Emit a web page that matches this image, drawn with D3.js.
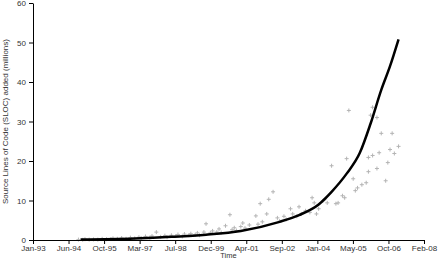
<!DOCTYPE html>
<html>
<head>
<meta charset="utf-8">
<script src="https://cdn.jsdelivr.net/npm/d3@7/dist/d3.min.js"></script>
<style>
  body { margin: 0; background: #fff; }
  svg { display: block; font-family: 'Liberation Sans', Arial, sans-serif; }
</style>
</head>
<body>
<div id="chart"></div>
<script>
// observed SLOC per month (millions)
const obsMonths = [
  '1994-11', '1995-01', '1995-02', '1995-04', '1995-06', '1995-08', '1995-10', '1995-12',
  '1996-02', '1996-03', '1996-05', '1996-07', '1996-09', '1996-11', '1997-01', '1997-03',
  '1997-04', '1997-06', '1997-08', '1997-09', '1997-11', '1998-01', '1998-03', '1998-04',
  '1998-06', '1998-08', '1998-09', '1998-11', '1998-12', '1999-02', '1999-03', '1999-05',
  '1999-06', '1999-07', '1999-09', '1999-10', '1999-12', '2000-01', '2000-03', '2000-04',
  '2000-05', '2000-07', '2000-09', '2000-10', '2000-11', '2000-12', '2001-02', '2001-03',
  '2001-04', '2001-06', '2001-09', '2001-10', '2001-11', '2001-12', '2002-02', '2002-03',
  '2002-05', '2002-07', '2002-08', '2002-10', '2002-11', '2003-01', '2003-02', '2003-04',
  '2003-05', '2003-06', '2003-08', '2003-10', '2003-11', '2003-12', '2004-01', '2004-02',
  '2004-04', '2004-05', '2004-06', '2004-08', '2004-10', '2004-11', '2005-01', '2005-02',
  '2005-03', '2005-04', '2005-06', '2005-07', '2005-08', '2005-10', '2005-12', '2006-01',
  '2006-01', '2006-02', '2006-03', '2006-03', '2006-05', '2006-05', '2006-06', '2006-07',
  '2006-09', '2006-10', '2006-11', '2006-12', '2007-01', '2007-03'
];
const obsValues = [
  0.1, 0.05, 0.2, 0.1, 0.15, 0.1, 0.3, 0.2,
  0.25, 0.4, 0.3, 0.5, 0.3, 0.6, 0.4, 0.7,
  0.5, 0.9, 0.6, 1.0, 2.0, 0.8, 1.1, 0.7,
  1.2, 1.0, 1.4, 0.9, 1.5, 1.2, 1.6, 1.3,
  1.8, 1.2, 2.0, 4.1, 1.8, 2.3, 2.0, 2.8,
  1.9, 3.6, 6.4, 2.6, 3.1, 2.4, 3.4, 4.3,
  3.0, 3.8, 6.1, 4.0, 9.2, 4.6, 6.6, 10.3,
  12.2, 5.6, 4.8, 6.0, 5.2, 7.9, 6.6, 6.0,
  8.4, 6.6, 7.4, 7.0, 10.7, 9.4, 6.6, 7.9,
  9.9, 10.4, 9.4, 18.8, 9.2, 9.4, 11.2, 10.7,
  20.6, 32.8, 15.5, 12.5, 13.2, 14.0, 14.5, 17.3,
  20.9, 31.6, 33.6, 21.4, 18.1, 31.0, 22.1, 27.0,
  15.0, 19.6, 22.9, 27.0, 21.9, 23.7
];

// exponential trend line
const trendMonths = [
  '1994-12', '1997-01', '1998-06', '1999-10', '2001-02', '2002-08', '2003-05', '2004-02',
  '2004-08', '2005-03', '2005-09', '2006-02', '2006-07', '2006-11', '2007-03'
];
const trendValues = [0.15, 0.4, 0.8, 1.35, 2.3, 4.6, 6.3, 9.0, 12.2, 16.8, 22, 29.5, 38, 44, 50.8];

const yTicks = [0, 10, 20, 30, 40, 50, 60];
const axisStart = '1993-01-31';
const tickStepDays = 500;
const tickCount = 12;

const width = 440;
const height = 260;
const margin = { top: 3, right: 16, bottom: 20, left: 33 };

const parseMonth = d3.utcParse('%Y-%m');
const parseDay = d3.utcParse('%Y-%m-%d');

const start = parseDay(axisStart);
const xTicks = d3.range(tickCount).map(i => d3.utcDay.offset(start, i * tickStepDays));

const x = d3.scaleUtc()
  .domain([xTicks[0], xTicks[xTicks.length - 1]])
  .range([margin.left, width - margin.right]);

const y = d3.scaleLinear()
  .domain([0, 60])
  .range([height - margin.bottom, margin.top]);

const svg = d3.select('#chart')
  .append('svg')
  .attr('width', width)
  .attr('height', height);

// observations as grey crosses
svg.append('g')
  .attr('stroke', '#b4b4b4')
  .attr('stroke-width', 1)
  .selectAll('path')
  .data(obsMonths.map((m, i) => ({ date: parseMonth(m), value: obsValues[i] })))
  .join('path')
  .attr('transform', d => `translate(${x(d.date)},${y(d.value)})`)
  .attr('d', 'M-2,0H2M0,-2V2');

const line = d3.line()
  .x(d => x(d.date))
  .y(d => y(d.value))
  .curve(d3.curveMonotoneX);

svg.append('path')
  .datum(trendMonths.map((m, i) => ({ date: parseMonth(m), value: trendValues[i] })))
  .attr('fill', 'none')
  .attr('stroke', '#000')
  .attr('stroke-width', 2.5)
  .attr('d', line);

const xAxis = g => g
  .attr('transform', `translate(0,${height - margin.bottom})`)
  .call(d3.axisBottom(x)
    .tickValues(xTicks)
    .tickFormat(d3.utcFormat('%b-%y'))
    .tickSize(4)
    .tickSizeOuter(0))
  .call(g => g.selectAll('text')
    .attr('y', 5)
    .attr('dy', '0.71em')
    .attr('fill', '#333')
    .style('font-size', '8px'));

const yAxis = g => g
  .attr('transform', `translate(${margin.left},0)`)
  .call(d3.axisLeft(y)
    .tickValues(yTicks)
    .tickSize(4)
    .tickSizeOuter(0))
  .call(g => g.selectAll('text')
    .attr('fill', '#333')
    .style('font-size', '8px'));

svg.append('g').call(xAxis);
svg.append('g').call(yAxis);

svg.append('text')
  .attr('x', (margin.left + width - margin.right) / 2)
  .attr('y', 258)
  .attr('text-anchor', 'middle')
  .attr('fill', '#333')
  .style('font-size', '7.5px')
  .text('Time');

svg.append('text')
  .attr('transform', `translate(8,${(margin.top + height - margin.bottom) / 2}) rotate(-90)`)
  .attr('text-anchor', 'middle')
  .attr('fill', '#333')
  .style('font-size', '8px')
  .text('Source Lines of Code (SLOC) added (millions)');
</script>
</body>
</html>
